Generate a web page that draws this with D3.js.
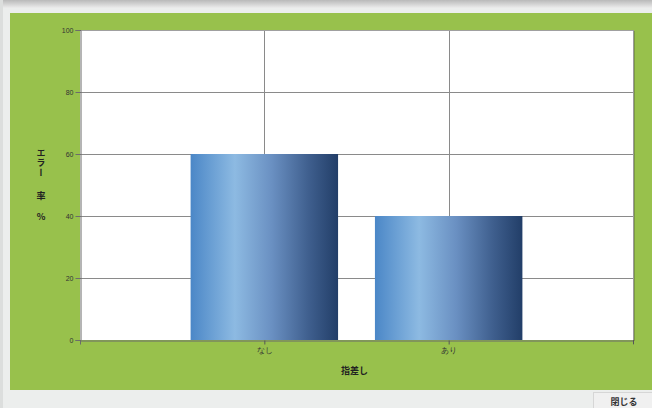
<!DOCTYPE html>
<html><head><meta charset="utf-8">
<script src="https://cdn.jsdelivr.net/npm/d3@7"></script>
<style>
html,body{margin:0;padding:0;background:#eceeed;}
svg{display:block;font-family:"Noto Sans CJK JP","Noto Sans",sans-serif;}
</style></head>
<body>
<svg id="c" width="652" height="408"></svg>
<script>
const categories = ["なし", "あり"];
const values = [60, 40];
const yTicks = [0, 20, 40, 60, 80, 100];
const yTitle = ["エ", "ラ", "ー", "率", "%"];
const xTitle = "指差し";
const buttonLabel = "閉じる";

const svg = d3.select("#c");
const defs = svg.append("defs");
const topGrad = defs.append("linearGradient").attr("id","tg").attr("x1",0).attr("y1",0).attr("x2",0).attr("y2",1);
topGrad.append("stop").attr("offset",0).attr("stop-color","#b9b9b9");
topGrad.append("stop").attr("offset",1).attr("stop-color","#ececec");
svg.append("rect").attr("x",0).attr("y",0).attr("width",652).attr("height",8).attr("fill","url(#tg)");
svg.append("rect").attr("x",0).attr("y",0).attr("width",3).attr("height",408).attr("fill","#dcdedd");
// green panel
svg.append("rect").attr("x",10).attr("y",13).attr("width",642).attr("height",377).attr("fill","#98c14c");

const m = {l:80, r:633, t:30, b:340};
const x = d3.scalePoint().domain(["_s", ...categories, "_e"]).range([m.l, m.r]);
const y = d3.scaleLinear().domain([0, 100]).range([m.b, m.t]);

svg.append("rect").attr("x",m.l).attr("y",m.t).attr("width",m.r-m.l).attr("height",m.b-m.t).attr("fill","#fff");

const bg = defs.append("linearGradient").attr("id","bar").attr("x1",0).attr("y1",0).attr("x2",1).attr("y2",0);
[[0,"#4b87c7"],[0.3,"#8dbae2"],[0.55,"#6a90c2"],[0.8,"#3f5f8e"],[1,"#223e68"]].forEach(([o,c])=>bg.append("stop").attr("offset",o).attr("stop-color",c));

// grid
const g = svg.append("g");
yTicks.filter(t=>t>0 && t<100).forEach(t=>{
  g.append("line").attr("x1",m.l).attr("x2",m.r).attr("y1",Math.round(y(t))+0.5).attr("y2",Math.round(y(t))+0.5).attr("stroke","#8a8a8a");
});
categories.forEach(c=>{
  g.append("line").attr("x1",Math.round(x(c))+0.5).attr("x2",Math.round(x(c))+0.5).attr("y1",m.t).attr("y2",m.b).attr("stroke","#8a8a8a");
});

// bars
const bw = x.step()*0.8;
svg.append("g").selectAll("rect").data(categories).join("rect")
  .attr("x",(d)=>x(d)-bw/2).attr("width",bw)
  .attr("y",(d,i)=>y(values[i])).attr("height",(d,i)=>m.b-y(values[i]))
  .attr("fill","url(#bar)");

// plot frame
svg.append("line").attr("x1",m.l).attr("x2",m.r).attr("y1",m.t+0.5).attr("y2",m.t+0.5).attr("stroke","#a0a0a0");
svg.append("line").attr("x1",m.r+0.5).attr("x2",m.r+0.5).attr("y1",m.t).attr("y2",m.b).attr("stroke","#9a9a9a");
svg.append("line").attr("x1",m.r+1.5).attr("x2",m.r+1.5).attr("y1",m.t+1).attr("y2",m.b+1).attr("stroke","#7c9a44");

// y axis
const ya = svg.append("g").attr("transform",`translate(${m.l+0.5},0)`)
  .call(d3.axisLeft(y).tickValues(yTicks).tickSize(5).tickPadding(2));
ya.select(".domain").attr("stroke","#6b6b6b");
ya.selectAll(".tick line").attr("stroke","#6b6b6b");
ya.selectAll("text").attr("fill","#333").style("font-size","7px").style("font-family","Liberation Sans, sans-serif");

// x axis
const xa = svg.append("g").attr("transform",`translate(0,${m.b+0.5})`)
  .call(d3.axisBottom(x).tickValues([...categories]).tickSize(4).tickPadding(3));
xa.select(".domain").attr("stroke","#6b6b6b");
xa.selectAll(".tick line").attr("stroke","#555");
xa.selectAll("text").attr("fill","#333").style("font-size","8px");
svg.append("line").attr("x1",m.r+0.5).attr("x2",m.r+0.5).attr("y1",m.b).attr("y2",m.b+4).attr("stroke","#555");

// titles
svg.append("text").attr("x",(m.l+m.r)/2 - 2).attr("y",374).attr("text-anchor","middle")
  .style("font-size","9px").style("font-weight","bold").attr("fill","#222").text(xTitle);
// vertical y-axis title as one text element
const yStarts = [148, 158, 168, 191, 212];
const yt = svg.append("text").attr("x",41).attr("y",148)
  .style("writing-mode","vertical-rl").style("text-orientation","upright")
  .style("font-size","9px").style("font-weight","bold").attr("fill","#222");
yTitle.forEach((ch,i)=>{
  yt.append("tspan").attr("x",41).attr("y",yStarts[i]).text(ch);
});

// close button
svg.append("rect").attr("x",593.5).attr("y",392.5).attr("width",60).attr("height",18).attr("fill","#f0f0f0").attr("stroke","#d6d6d6");
svg.append("text").attr("x",624).attr("y",405).attr("text-anchor","middle").style("font-size","9px").style("font-weight","bold").attr("fill","#333").text(buttonLabel);
</script>
</body></html>
